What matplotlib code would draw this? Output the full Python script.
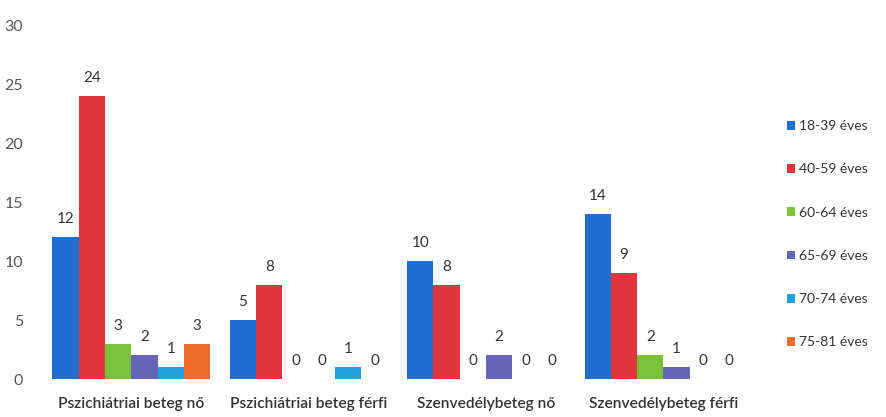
import numpy as np
import matplotlib.pyplot as plt

plt.rcParams['font.family'] = ['Lato', 'DejaVu Sans']

# categories and series
categories = ['Pszichiátriai beteg nő', 'Pszichiátriai beteg férfi',
              'Szenvedélybeteg nő', 'Szenvedélybeteg férfi']
age_groups = ['18-39 éves', '40-59 éves', '60-64 éves',
              '65-69 éves', '70-74 éves', '75-81 éves']
v_18_39 = [12, 5, 10, 14]
v_40_59 = [24, 8, 8, 9]
v_60_64 = [3, 0, 0, 2]
v_65_69 = [2, 0, 2, 1]
v_70_74 = [1, 1, 0, 0]
v_75_81 = [3, 0, 0, 0]

series = [v_18_39, v_40_59, v_60_64, v_65_69, v_70_74, v_75_81]
colours = ['#1f6dcc', '#e0363d', '#7cc238', '#6464b8', '#22a0de', '#f06c2c']

fig = plt.figure(figsize=(8.87, 4.17), dpi=100)
ax = fig.add_axes([0.048, 0.091, 0.800, 0.849])

x = np.arange(len(categories))
width = 0.89 / 6
handles = []
for i, (vals, col) in enumerate(zip(series, colours)):
    pos = x - 0.445 + width * (i + 0.5)
    b = ax.bar(pos, vals, width, color=col, linewidth=0, label=age_groups[i])
    handles.append(b)
    for px, v in zip(pos, vals):
        ax.annotate(str(v), (px, v), xytext=(0, 8), textcoords='offset points',
                    ha='center', va='bottom', fontsize=11, color='#333333')

ax.set_xlim(-0.5, len(categories) - 0.5)
ax.set_ylim(0, 30)
ax.set_yticks(range(0, 31, 5))
ax.set_xticks(x)
ax.set_xticklabels(categories, fontsize=11.2, fontweight='semibold', color='#333333')
ax.tick_params(axis='y', length=0, pad=14, labelsize=11.5, labelcolor='#555555')
ax.tick_params(axis='x', length=0, pad=13)
for s in ax.spines.values():
    s.set_visible(False)

fig.legend(handles=handles, loc='upper left', bbox_to_anchor=(0.873, 0.742),
           frameon=False, fontsize=10, labelspacing=2.25,
           handlelength=0.6, handleheight=0.6, handletextpad=0.3,
           labelcolor='#333333')

fig.savefig('out.png', dpi=100)
